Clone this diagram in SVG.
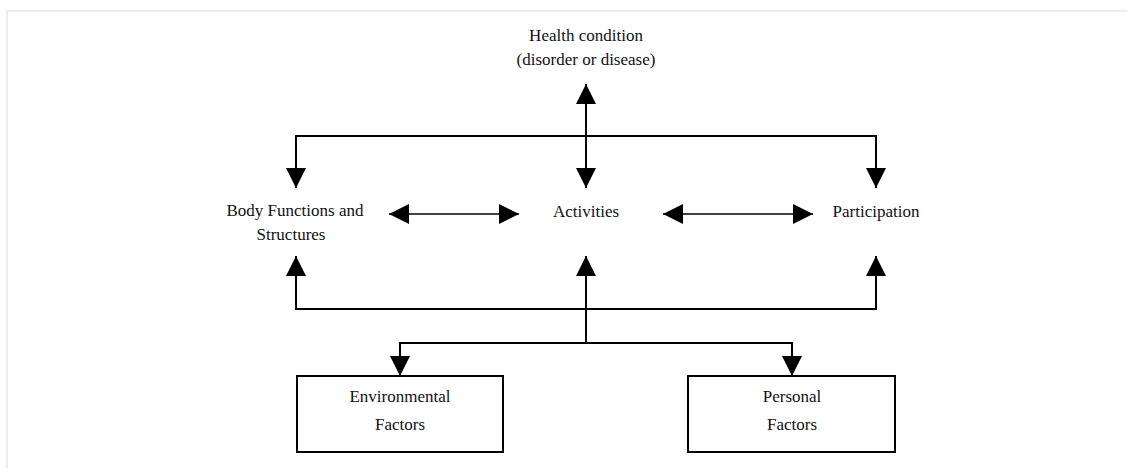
<svg xmlns="http://www.w3.org/2000/svg" width="1127" height="468" viewBox="0 0 1127 468">
  <style>
    .t { font-family: "Liberation Serif", "Times New Roman", serif; font-size: 17px; fill: #111; text-anchor: middle; }
    .ln { fill: none; stroke: #000; stroke-width: 2; }
    .thin { fill: none; stroke: #000; stroke-width: 1.5; }
    .box { fill: #fff; stroke: #000; stroke-width: 2; }
    .frame { fill: none; stroke: #ececec; stroke-width: 2; }
  </style>
  <defs>
    <marker id="head" viewBox="0 0 20 20" refX="20" refY="10" markerWidth="20" markerHeight="20" markerUnits="userSpaceOnUse" orient="auto-start-reverse">
      <path d="M0,0 L20,10 L0,20 Z" fill="#000"/>
    </marker>
  </defs>
  <rect width="1127" height="468" fill="#fff"/>
  <path class="frame" d="M7,468 V11 H1127"/>

  <g id="connectors">
    <!-- health condition to the three components -->
    <path class="ln" d="M586,188 V84" marker-start="url(#head)" marker-end="url(#head)"/>
    <path class="ln" d="M296,188 V136 H876 V188" marker-start="url(#head)" marker-end="url(#head)"/>
    <!-- horizontal links between components -->
    <path class="thin" d="M389,214 H519" marker-start="url(#head)" marker-end="url(#head)"/>
    <path class="thin" d="M663,214 H813" marker-start="url(#head)" marker-end="url(#head)"/>
    <!-- contextual factors back up to components -->
    <path class="ln" d="M296,256 V309 H876 V256" marker-start="url(#head)" marker-end="url(#head)"/>
    <path class="ln" d="M586,256 V343" marker-start="url(#head)"/>
    <path class="ln" d="M400,376 V343 H792 V376" marker-start="url(#head)" marker-end="url(#head)"/>
  </g>

  <g id="health-condition">
    <text class="t" x="586" y="41">Health  condition</text>
    <text class="t" x="586" y="65">(disorder or disease)</text>
  </g>
  <g id="body-functions">
    <text class="t" x="295" y="216">Body Functions  and</text>
    <text class="t" x="291" y="240">Structures</text>
  </g>
  <g id="activities">
    <text class="t" x="586" y="217">Activities</text>
  </g>
  <g id="participation">
    <text class="t" x="876" y="217">Participation</text>
  </g>
  <g id="environmental-factors">
    <rect class="box" x="297" y="376" width="206" height="76"/>
    <text class="t" x="400" y="402">Environmental</text>
    <text class="t" x="400" y="430">Factors</text>
  </g>
  <g id="personal-factors">
    <rect class="box" x="688" y="376" width="207" height="76"/>
    <text class="t" x="792" y="402">Personal</text>
    <text class="t" x="792" y="430">Factors</text>
  </g>
</svg>
